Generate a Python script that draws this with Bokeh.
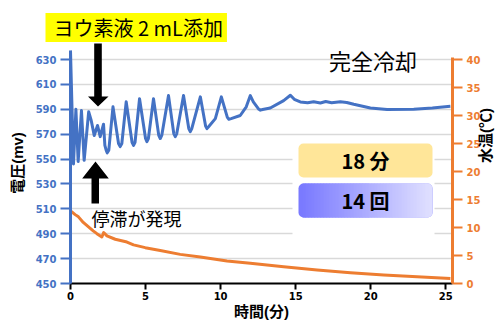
from math import pi
from bokeh.plotting import figure
from bokeh.models import Range1d, LinearAxis, FixedTicker, Label, BoxAnnotation, PolyAnnotation, Title
from bokeh.embed import file_html
from bokeh.resources import INLINE

# ---- data ----
time_v = [0.00, 0.08, 0.20, 0.36, 0.51, 0.73, 0.91, 1.21, 1.38, 1.58, 1.80, 1.98, 2.20, 2.29, 2.38, 2.45, 2.55,
          2.83, 3.20, 3.31, 3.42, 3.71, 4.10, 4.20, 4.30, 4.60, 5.00, 5.09, 5.19, 5.53, 5.88, 5.98, 6.08,
          6.53, 6.88, 6.98, 7.08, 7.53, 7.88, 7.98, 8.08, 8.65, 9.00, 9.09, 9.20, 9.65,
          10.05, 10.45, 10.55, 10.70, 11.31, 11.71, 11.98, 12.18, 12.55, 12.65, 12.80, 13.31, 14.20, 14.65,
          14.91, 15.31, 15.80, 16.20, 16.65, 17.00, 17.40, 17.98, 18.40, 18.87, 19.98, 21.09, 22.87, 24.11, 25.31]
voltage = [637, 600, 546, 590, 548, 589, 549, 588, 581, 569, 577, 568, 578, 561, 557, 555, 557,
           592, 562.5, 560, 562.5, 596, 563.5, 561, 563.5, 598.5, 566.5, 564, 566.5, 598.5, 569, 566.5, 569,
           601, 570.5, 568, 570.5, 601, 574.5, 572, 574.5, 600, 576.5, 574.5, 576, 582.5,
           600, 583.5, 582, 582.5, 585, 592, 601, 596, 590, 589.3, 589.8, 591, 597, 601.3,
           598, 595.9, 595.2, 596, 595, 596.2, 595.3, 596, 595.5, 594, 591, 589.8, 590, 591, 592.4]

time_t = [0.00, 0.09, 0.31, 0.53, 0.85, 1.20, 1.51, 1.76, 2.09, 2.21, 2.43, 2.98, 3.76, 4.20,
          4.98, 5.98, 7.31, 8.65, 10.43, 11.98, 14.20, 16.43, 18.65, 20.87, 23.09, 25.31]
temperature = [12.9, 12.8, 12.3, 11.9, 10.9, 10.1, 9.4, 8.9, 8.3, 9.1, 8.5, 7.9, 7.4, 6.9,
               6.4, 5.9, 5.2, 4.75, 4.0, 3.6, 3.0, 2.4, 1.9, 1.5, 1.2, 0.9]

x_ticks = [0, 5, 10, 15, 20, 25]
v_ticks = [450, 470, 490, 510, 530, 550, 570, 590, 610, 630]
t_ticks = [0, 5, 10, 15, 20, 25, 30, 35, 40]

minutes_text = "18 分"
count_text = "14 回"

BLUE = "#4472C4"
ORANGE = "#ED7D31"
FONT = "Noto Sans CJK JP"
TITLEFONT = "Liberation Sans, Noto Sans CJK JP"
TICKFONT = "DejaVu Sans"

# ---- layout ----
FW, FH = 382, 241
XMAX = 25.45
PX_PER_MV = 224 / 180.0
VMIN = 450
VMAX = VMIN + FH / PX_PER_MV
TMAX = 40 * (VMAX - VMIN) / 180

p = figure(frame_width=FW, frame_height=FH,
           min_border_left=70, min_border_right=49, min_border_top=42, min_border_bottom=37,
           x_range=Range1d(0, XMAX), y_range=Range1d(VMIN, VMAX),
           output_backend="svg", toolbar_location=None)
p.extra_y_ranges = {"temp": Range1d(0, TMAX)}
p.outline_line_color = None
p.background_fill_color = "white"
p.border_fill_color = "white"

# page-pixel -> data helpers for annotations
def X(px):
    return (px - 70.0) / (FW / XMAX)

def Y(py):
    return VMIN + (283.0 - py) / PX_PER_MV

# left axis
ay = p.yaxis[0]
ay.ticker = FixedTicker(ticks=v_ticks)
ay.bounds = (450, 637.5)
ay.axis_line_color = BLUE
ay.axis_line_width = 3
ay.major_tick_line_color = BLUE
ay.major_tick_line_width = 2
ay.major_tick_out = 10
ay.major_tick_in = 0
ay.minor_tick_line_color = None
ay.major_label_text_color = BLUE
ay.major_label_text_font = TICKFONT
ay.major_label_text_font_style = "bold"
ay.major_label_text_font_size = "10px"
ay.major_label_standoff = 4
ay.axis_label = "電圧(mv)"
ay.axis_label_text_font = TITLEFONT
ay.axis_label_text_font_style = "bold"
ay.axis_label_text_font_size = "15px"
ay.axis_label_text_color = "black"
ay.axis_label_standoff = 7

# bottom axis
ax = p.xaxis[0]
ax.ticker = FixedTicker(ticks=x_ticks)
ax.axis_line_color = "black"
ax.axis_line_width = 2
ax.major_tick_line_color = "black"
ax.major_tick_line_width = 2
ax.major_tick_out = 6
ax.major_tick_in = 0
ax.minor_tick_line_color = None
ax.major_label_text_color = "black"
ax.major_label_text_font = TICKFONT
ax.major_label_text_font_style = "bold"
ax.major_label_text_font_size = "10px"
ax.major_label_standoff = 2
ax.axis_label = "時間(分)"
ax.axis_label_text_font = TITLEFONT
ax.axis_label_text_font_style = "bold"
ax.axis_label_text_font_size = "15px"
ax.axis_label_text_color = "black"
ax.axis_label_standoff = 0

# right axis
ar = LinearAxis(y_range_name="temp", ticker=FixedTicker(ticks=t_ticks), bounds=(0, 40.4))
ar.axis_line_color = ORANGE
ar.axis_line_width = 3
ar.major_tick_line_color = ORANGE
ar.major_tick_line_width = 2
ar.major_tick_out = 10
ar.major_tick_in = 0
ar.minor_tick_line_color = None
ar.major_label_text_color = ORANGE
ar.major_label_text_font = TICKFONT
ar.major_label_text_font_style = "bold"
ar.major_label_text_font_size = "10px"
ar.major_label_standoff = 4
ar.axis_label = "水温(℃)"
ar.axis_label_text_font = TITLEFONT
ar.axis_label_text_font_style = "bold"
ar.axis_label_text_font_size = "15px"
ar.axis_label_text_color = "black"
ar.axis_label_standoff = 2
ar.axis_label_orientation = pi / 2
p.add_layout(ar, "right")

p.xgrid.visible = False
p.ygrid.ticker = FixedTicker(ticks=v_ticks)
p.ygrid.grid_line_color = "#d9d9d9"
p.ygrid.grid_line_width = 1.5

# data lines
p.line(time_t, temperature, color=ORANGE, line_width=3, y_range_name="temp", line_join="round")
p.line(time_v, voltage, color=BLUE, line_width=3, line_join="round")

# white backdrop + result boxes
p.add_layout(BoxAnnotation(left=X(292), right=X(434), top=Y(138), bottom=Y(246),
                           fill_color="white", fill_alpha=1, line_color=None))
p.add_layout(BoxAnnotation(left=X(298), right=X(432), top=Y(143), bottom=Y(177),
                           fill_color="#FFE699", fill_alpha=1, line_color=None, border_radius=5))

c0 = (122, 122, 255)
c1 = (222, 222, 255)
def hexc(c):
    return "#%02x%02x%02x" % tuple(int(round(v)) for v in c)
p.add_layout(BoxAnnotation(left=X(298), right=X(432), top=Y(183), bottom=Y(217),
                           fill_color=hexc(c0), fill_alpha=1, line_color=None, border_radius=5))
p.add_layout(BoxAnnotation(left=X(365), right=X(432), top=Y(183), bottom=Y(217),
                           fill_color=hexc(c1), fill_alpha=1, line_color=None, border_radius=5))
gl, gr = 302, 428
n = 42
for i in range(n):
    f = (i + 0.5) / n
    col = tuple(c0[k] + (c1[k] - c0[k]) * f for k in range(3))
    l = gl + (gr - gl) * i / n
    r = gl + (gr - gl) * (i + 1) / n + 0.6
    p.add_layout(BoxAnnotation(left=X(l), right=X(r), top=Y(183), bottom=Y(217),
                               fill_color=hexc(col), fill_alpha=1, line_color=None))

p.add_layout(Label(x=X(365), y=Y(160), text=minutes_text, text_font=FONT, text_font_size="20px",
                   text_font_style="bold", text_align="center", text_baseline="middle", text_color="black"))
p.add_layout(Label(x=X(365), y=Y(200), text=count_text, text_font=FONT, text_font_size="20px",
                   text_font_style="bold", text_align="center", text_baseline="middle", text_color="black"))

# arrows
down_x = [93.7, 101.3, 101.3, 108.0, 97.5, 87.5, 93.7]
down_y = [43, 43, 96, 96, 106, 96, 96]
up_x = [91.0, 98.5, 98.5, 108.3, 95.0, 81.7, 91.0]
up_y = [203, 203, 178, 178, 161, 178, 178]
p.add_layout(PolyAnnotation(xs=[X(v) for v in down_x], ys=[Y(v) for v in down_y],
                            fill_color="black", fill_alpha=1, line_color=None))
p.add_layout(PolyAnnotation(xs=[X(v) for v in up_x], ys=[Y(v) for v in up_y],
                            fill_color="black", fill_alpha=1, line_color=None))

# texts inside the frame
p.add_layout(Label(x=X(372.5), y=Y(59), text="完全冷却", text_font=FONT, text_font_size="22px",
                   text_align="center", text_baseline="middle", text_color="black"))
p.add_layout(Label(x=X(91), y=Y(217), text="停滞が発現", text_font=FONT, text_font_size="18px",
                   text_align="left", text_baseline="middle", text_color="black"))

# highlighted note above the frame
note = Title(text="ヨウ素液 2 mL添加", text_font=FONT, text_font_size="20px", text_font_style="normal",
             text_color="black", background_fill_color="#FFFF00", align="left", offset=-25,
             standoff=1, padding=dict(left=8, right=4, top=0, bottom=0))
p.add_layout(note, "above")

open("out.html", "w").write(file_html(p, INLINE))
